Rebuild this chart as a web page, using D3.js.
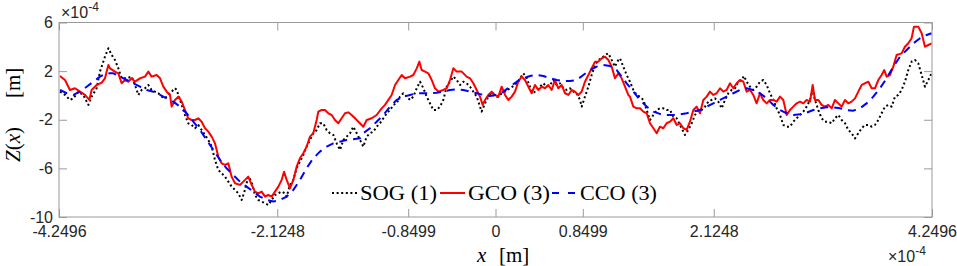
<!DOCTYPE html>
<html><head><meta charset="utf-8">
<script src="https://cdn.jsdelivr.net/npm/d3@7"></script>
<style>
body{margin:0;background:#fff;}
svg{display:block;}
</style></head>
<body><svg id="c" width="957" height="266"></svg>
<script>
// x tick values and labels (x10^-4 m)
const xTickValues = [-4.2496, -2.1248, -0.8499, 0, 0.8499, 2.1248, 4.2496];
const xTickLabels = ["-4.2496", "-2.1248", "-0.8499", "0", "0.8499", "2.1248", "4.2496"];
const yTickValues = [-10, -6, -2, 2, 6];
const yTickLabels = ["-10", "-6", "-2", "2", "6"];
const seriesNames = ["SOG (1)", "GCO (3)", "CCO (3)"];

// SOG (1) - black dotted
const sogX = [-4.240,-4.191,-4.143,-4.110,-4.062,-4.013,-3.964,-3.932,-3.883,-3.851,-3.802,-3.769,-3.737,-3.705,-3.672,-3.640,-3.591,-3.542,-3.510,-3.477,-3.445,-3.412,-3.380,-3.348,-3.315,-3.283,-3.250,-3.218,-3.185,-3.153,-3.120,-3.104,-3.088,-3.055,-3.023,-2.991,-2.958,-2.926,-2.893,-2.861,-2.828,-2.796,-2.763,-2.731,-2.699,-2.666,-2.634,-2.601,-2.569,-2.536,-2.504,-2.471,-2.439,-2.407,-2.374,-2.342,-2.309,-2.277,-2.244,-2.212,-2.179,-2.147,-2.114,-2.082,-2.050,-2.033,-2.001,-1.968,-1.936,-1.904,-1.871,-1.839,-1.806,-1.774,-1.741,-1.709,-1.677,-1.644,-1.612,
-1.579,-1.546,-1.514,-1.481,-1.449,-1.416,-1.384,-1.351,-1.319,-1.287,-1.254,-1.222,-1.189,-1.157,-1.124,-1.092,-1.059,-1.027,-0.994,-0.962,-0.930,-0.897,-0.865,-0.832,-0.800,-0.767,-0.735,-0.702,-0.670,-0.638,-0.605,-0.573,-0.540,-0.508,-0.475,-0.443,-0.410,-0.378,-0.345,-0.313,-0.281,-0.248,-0.216,-0.183,-0.151,-0.135,-0.102,-0.070,-0.037,-0.005,0.028,0.060,0.093,0.141,0.190,0.239,0.271,0.304,0.336,0.369,0.401,0.433,0.466,0.498,0.531,0.563,0.596,0.628,0.661,0.693,0.725,0.758,0.790,0.823,0.839,0.871,0.904,0.936,0.969,1.001,1.034,1.066,1.099,1.131,1.163,1.196,
1.212,1.244,1.277,1.309,1.342,1.374,1.407,1.439,1.472,1.504,1.537,1.569,1.601,1.634,1.666,1.699,1.731,1.764,1.796,1.829,1.845,1.877,1.910,1.942,1.975,2.007,2.040,2.072,2.104,2.137,2.169,2.202,2.234,2.267,2.299,2.332,2.364,2.396,2.419,2.445,2.478,2.510,2.542,2.575,2.607,2.640,2.672,2.705,2.737,2.770,2.802,2.835,2.867,2.899,2.932,2.964,2.997,3.029,3.062,3.088,3.110,3.143,3.175,3.208,3.240,3.273,3.305,3.338,3.370,3.403,3.435,3.467,3.500,3.532,3.565,3.597,3.630,3.662,3.694,3.727,3.759,3.792,3.824,3.857,3.889,3.922,3.954,3.986,4.019,4.051,4.084,4.116,4.149,4.181,4.214,4.246];
const sogY = [0.31,0.04,-0.37,-0.24,0.31,0.04,-0.78,-0.10,0.59,1.96,3.19,3.88,3.33,2.92,2.23,1.41,1.41,1.55,0.86,0.04,0.45,0.59,0.86,0.45,0.31,0.18,-0.10,-0.24,0.04,0.31,0.59,0.45,0.04,-0.78,-1.61,-2.29,-2.43,-2.70,-2.43,-2.84,-3.25,-3.66,-4.21,-5.31,-6.13,-6.40,-6.68,-7.09,-7.50,-7.77,-8.05,-8.60,-7.77,-6.68,-7.09,-8.19,-8.60,-8.73,-8.87,-9.01,-8.60,-8.19,-8.05,-7.91,-8.05,-8.32,-7.36,-6.95,-5.99,-5.44,-4.90,-4.21,-3.66,-3.11,-2.84,-2.29,-2.29,-2.84,-3.11,
-3.25,-3.94,-4.48,-3.66,-3.39,-3.11,-2.57,-3.11,-3.66,-4.21,-3.39,-3.11,-2.98,-2.57,-2.29,-1.88,-1.47,-1.20,-0.78,-0.65,-0.10,0.18,-0.10,-0.37,-0.10,0.59,1.13,0.59,-0.10,-0.65,-1.20,-1.20,-0.92,-0.37,0.72,1.13,1.55,1.27,0.86,1.13,1.00,0.72,0.31,-0.10,-0.92,-1.33,-0.65,-0.10,0.18,-0.10,-0.10,0.18,0.31,0.59,0.86,1.41,1.82,1.41,0.72,0.18,0.45,0.72,1.00,0.72,0.86,1.27,0.86,1.00,0.59,0.45,0.59,0.31,0.18,-0.37,-0.92,-0.10,0.72,1.68,2.50,2.92,3.05,3.33,3.46,2.92,2.37,2.92,
3.05,2.37,1.68,1.13,0.45,0.04,-0.10,-0.37,-1.20,-2.02,-1.61,-1.20,-1.06,-1.06,-1.20,-1.20,-1.74,-1.88,-2.43,-2.98,-3.25,-2.84,-2.29,-1.61,-1.20,-1.20,-0.92,-0.51,-0.37,-0.24,-0.51,-1.06,-0.37,0.18,0.45,0.59,1.13,1.27,1.60,1.13,0.72,0.45,0.72,1.13,1.27,0.86,0.18,-0.37,-1.06,-1.61,-2.43,-2.57,-2.57,-2.16,-1.88,-1.61,-1.33,-0.92,-0.37,0.50,-0.37,-1.20,-1.88,-2.16,-2.16,-2.29,-1.88,-1.61,-2.02,-2.29,-2.84,-3.11,-3.53,-3.11,-2.70,-2.43,-2.43,-2.57,-2.43,-2.02,-1.47,-0.92,-0.78,-0.92,-0.10,0.04,0.45,1.13,2.09,2.78,2.92,2.64,1.68,0.72,1.27,1.82];

// GCO (3) - red solid
const gcoX = [-4.240,-4.191,-4.143,-4.094,-4.045,-3.997,-3.954,-3.932,-3.883,-3.834,-3.802,-3.769,-3.753,-3.705,-3.672,-3.640,-3.607,-3.575,-3.542,-3.510,-3.461,-3.412,-3.380,-3.348,-3.299,-3.266,-3.234,-3.201,-3.169,-3.153,-3.120,-3.088,-3.055,-3.023,-2.991,-2.958,-2.926,-2.893,-2.861,-2.828,-2.796,-2.763,-2.731,-2.699,-2.666,-2.634,-2.601,-2.569,-2.536,-2.488,-2.455,-2.407,-2.374,-2.342,-2.309,-2.277,-2.244,-2.212,-2.179,-2.147,-2.114,-2.082,-2.059,-2.033,-2.001,-1.968,-1.936,-1.904,-1.871,-1.839,-1.806,-1.774,-1.741,-1.725,-1.693,-1.660,-1.628,-1.595,-1.563,-1.530,-1.498,-1.465,-1.433,-1.401,-1.368,-1.320,
-1.287,-1.254,-1.205,-1.157,-1.108,-1.076,-1.043,-1.011,-0.978,-0.946,-0.913,-0.881,-0.832,-0.800,-0.767,-0.741,-0.719,-0.686,-0.654,-0.621,-0.589,-0.556,-0.508,-0.475,-0.443,-0.410,-0.378,-0.329,-0.281,-0.248,-0.216,-0.183,-0.151,-0.125,-0.102,-0.070,-0.037,-0.005,0.028,0.060,0.093,0.125,0.158,0.190,0.222,0.255,0.287,0.320,0.352,0.385,0.417,0.450,0.482,0.514,0.547,0.579,0.612,0.644,0.677,0.709,0.742,0.774,0.807,0.839,0.871,0.904,0.936,0.969,1.001,1.034,1.066,1.099,1.131,1.163,1.196,1.228,1.261,1.293,
1.309,1.342,1.374,1.407,1.439,1.472,1.504,1.537,1.569,1.601,1.634,1.666,1.699,1.731,1.764,1.796,1.829,1.861,1.893,1.926,1.958,1.991,2.023,2.056,2.088,2.121,2.153,2.186,2.218,2.250,2.283,2.315,2.348,2.380,2.413,2.445,2.478,2.510,2.542,2.575,2.607,2.640,2.672,2.705,2.737,2.770,2.802,2.835,2.867,2.899,2.932,2.964,2.997,3.029,3.062,3.088,3.110,3.143,3.175,3.208,3.240,3.273,3.305,3.338,3.370,3.403,3.435,3.467,3.500,3.532,3.565,3.597,3.630,3.662,3.694,3.727,3.759,3.785,3.808,3.840,3.873,3.905,3.954,3.986,4.019,4.051,4.074,4.116,4.149,4.181,4.214,4.246];
const gcoY = [1.60,1.27,0.45,0.59,0.31,0.04,-0.37,0.45,0.86,1.05,1.41,2.50,2.23,1.96,1.82,1.00,1.27,1.13,1.41,1.13,1.41,1.55,1.96,1.55,1.68,1.41,0.72,0.31,0.04,-0.92,-0.37,-0.10,-0.51,-1.20,-1.88,-2.02,-2.02,-1.88,-2.16,-2.70,-2.98,-3.39,-3.94,-5.03,-5.58,-5.72,-5.58,-6.68,-7.23,-7.36,-7.09,-6.68,-7.36,-7.91,-8.05,-7.91,-8.32,-8.19,-8.32,-7.91,-7.50,-6.95,-6.27,-6.95,-7.64,-6.95,-5.86,-5.17,-4.76,-4.21,-3.39,-3.11,-2.02,-1.33,-1.20,-1.20,-1.47,-1.61,-2.02,-2.29,-1.88,-1.47,-1.39,-1.61,-1.88,-2.29,
-2.57,-2.02,-1.88,-1.61,-1.06,-0.78,-0.37,0.04,0.86,1.27,1.68,1.41,1.55,1.68,2.23,2.78,2.09,1.96,1.82,1.27,0.59,0.31,0.45,0.59,1.27,2.23,1.96,1.96,1.55,1.41,1.00,0.45,-0.10,-0.78,-0.37,0.04,0.31,0.04,-0.10,0.72,0.04,-0.37,-0.10,0.31,1.13,1.55,1.27,0.72,0.18,0.86,0.45,0.72,0.59,0.86,0.45,1.27,0.59,0.86,0.18,0.04,0.45,0.31,0.04,0.31,1.13,1.68,2.23,2.78,2.78,3.05,3.19,2.92,2.37,1.41,1.82,1.41,0.72,0.04,
-0.10,-0.92,-1.06,-1.06,-1.33,-1.47,-2.29,-2.70,-3.11,-2.57,-2.70,-2.29,-2.16,-1.88,-2.43,-2.29,-2.70,-2.84,-2.16,-1.20,-0.92,-1.47,-0.37,-0.10,0.31,0.04,0.18,0.59,0.31,0.45,1.00,0.59,1.00,1.27,1.13,0.31,0.45,0.04,-0.65,0.18,-0.37,-0.65,-0.37,-0.37,-0.51,-0.10,-0.37,-1.61,-1.20,-0.92,-0.65,-0.51,-0.65,-0.37,-0.51,0.86,-0.37,-0.37,-0.78,-0.92,-0.78,-1.06,-0.37,-0.65,-0.92,-0.37,-0.65,-0.51,-0.24,0.31,0.86,1.00,1.13,0.59,0.59,1.27,1.68,2.09,1.55,1.68,2.37,3.33,3.46,4.01,4.29,4.70,5.66,5.66,5.11,4.01,4.15,4.29];

// CCO (3) - blue dashed
const ccoX = [-4.240,-4.175,-4.110,-4.045,-3.980,-3.916,-3.851,-3.786,-3.721,-3.656,-3.591,-3.526,-3.461,-3.396,-3.331,-3.266,-3.202,-3.137,-3.072,-3.007,-2.942,-2.877,-2.812,-2.747,-2.682,-2.618,-2.553,-2.488,-2.423,-2.358,-2.293,-2.228,-2.163,-2.098,-2.033,-1.968,-1.904,-1.839,-1.774,-1.709,-1.644,-1.579,-1.514,-1.449,-1.384,-1.320,
-1.287,-1.222,-1.157,-1.092,-1.027,-0.962,-0.897,-0.832,-0.767,-0.702,-0.638,-0.573,-0.508,-0.443,-0.378,-0.313,-0.248,-0.183,-0.118,-0.053,0.012,0.077,0.141,0.206,0.271,0.336,0.401,0.466,0.531,0.596,0.661,0.725,0.790,0.855,0.920,0.985,1.050,1.115,1.180,
1.277,1.342,1.407,1.472,1.537,1.601,1.666,1.731,1.796,1.861,1.926,1.991,2.056,2.121,2.186,2.250,2.315,2.380,2.445,2.510,2.575,2.640,2.705,2.770,2.835,2.899,2.964,3.029,3.094,3.159,3.224,3.289,3.354,3.419,3.484,3.549,3.613,3.678,3.743,3.808,3.873,3.938,4.003,4.068,4.133,4.198,4.246];
const ccoY = [0.45,0.18,0.04,0.31,0.72,1.13,1.55,1.82,1.82,1.55,1.27,1.00,0.72,0.45,0.31,0.04,-0.24,-0.51,-0.92,-1.47,-2.16,-2.84,-3.66,-4.48,-5.31,-5.99,-6.54,-7.09,-7.50,-7.91,-8.32,-8.60,-8.73,-8.60,-8.32,-7.77,-6.95,-5.99,-5.17,-4.62,-4.21,-3.94,-3.80,-3.66,-3.61,-3.53,
-3.11,-2.70,-2.16,-1.61,-0.92,-0.37,-0.10,0.04,0.18,0.18,0.18,0.23,0.31,0.45,0.50,0.45,0.31,0.18,0.04,-0.04,0.04,0.31,0.72,1.13,1.41,1.60,1.68,1.60,1.41,1.27,1.19,1.19,1.27,1.68,2.09,2.37,2.50,2.42,2.09,
1.00,0.31,-0.37,-0.92,-1.33,-1.52,-1.61,-1.61,-1.55,-1.47,-1.33,-1.20,-0.92,-0.65,-0.37,-0.10,0.18,0.45,0.59,0.45,0.18,-0.24,-0.78,-1.20,-1.47,-1.61,-1.55,-1.41,-1.20,-1.06,-0.98,-0.98,-1.06,-1.20,-1.25,-1.06,-0.65,-0.10,0.59,1.41,2.37,3.19,3.74,4.29,4.70,4.97,5.11];

const W = 957, H = 266;
const L = 59, R = 932, T = 22.5, B = 217;
const svg = d3.select("#c");
const x = d3.scaleLinear().domain([-4.2496, 4.2496]).range([L, R]);
const y = d3.scaleLinear().domain([-10, 6]).range([B, T]);

const frameCol = "#9a9a9a", textCol = "#262626";
const sans = "'Liberation Sans', Arial, Helvetica, sans-serif";
const serif = "'Liberation Serif', 'Times New Roman', serif";

svg.append("defs").append("clipPath").attr("id","clip")
  .append("rect").attr("x",L).attr("y",T).attr("width",R-L).attr("height",B-T);

function styleAxis(g, labels){
  g.select(".domain").remove();
  g.selectAll(".tick line").attr("stroke", frameCol).attr("stroke-width",1);
  g.selectAll(".tick text").attr("fill", textCol).style("font-family", sans).style("font-size","16px");
  if(!labels) g.selectAll(".tick text").remove();
}
const fx = (d)=> xTickLabels[xTickValues.indexOf(d)];
const fy = (d)=> yTickLabels[yTickValues.indexOf(d)];

svg.append("g").attr("transform",`translate(0,${B})`)
  .call(d3.axisBottom(x).tickValues(xTickValues).tickFormat(fx).tickSizeInner(-8).tickSizeOuter(0).tickPadding(9))
  .call(g=>styleAxis(g,true));
svg.append("g").attr("transform",`translate(0,${T})`)
  .call(d3.axisTop(x).tickValues(xTickValues).tickSizeInner(-8).tickSizeOuter(0))
  .call(g=>styleAxis(g,false));
svg.append("g").attr("transform",`translate(${L},0)`)
  .call(d3.axisLeft(y).tickValues(yTickValues).tickFormat(fy).tickSizeInner(-8).tickSizeOuter(0).tickPadding(6))
  .call(g=>styleAxis(g,true));
svg.append("g").attr("transform",`translate(${R},0)`)
  .call(d3.axisRight(y).tickValues(yTickValues).tickSizeInner(-8).tickSizeOuter(0))
  .call(g=>styleAxis(g,false));

// lines
const mk = (xs, ys) => xs.map((v,i)=>[v, ys[i]]);
const line = d3.line().x(d=>x(d[0])).y(d=>y(d[1]));
const series = [
  {name: seriesNames[0], data: mk(sogX,sogY), color:"#000000", dash:"2,2.6", w:2},
  {name: seriesNames[1], data: mk(gcoX,gcoY), color:"#ff0000", dash:null, w:2},
  {name: seriesNames[2], data: mk(ccoX,ccoY), color:"#0000ff", dash:"8,6", w:2}
];
const pg = svg.append("g").attr("clip-path","url(#clip)");
series.forEach(s=>{
  pg.append("path").datum(s.data).attr("d",line).attr("fill","none")
    .attr("stroke",s.color).attr("stroke-width",s.w)
    .attr("stroke-dasharray",s.dash).attr("stroke-linejoin","round");
});

// frame
svg.append("rect").attr("x",L).attr("y",T).attr("width",R-L).attr("height",B-T)
  .attr("fill","none").attr("stroke",frameCol).attr("stroke-width",1);

// exponent labels
function expo(xp, yp){
  const t = svg.append("text").attr("x",xp).attr("y",yp).attr("fill",textCol)
    .style("font-family",sans).style("font-size","16px");
  t.append("tspan").text("\u00d710");
  t.append("tspan").attr("dy",-7).style("font-size","12px").text("-4");
}
expo(61, 18);
expo(888, 262);

// legend
const legY = 193;
const leg = [
  {sx:332, ex:357, tx:360, tl:77},
  {sx:440, ex:465, tx:468, tl:82},
  {sx:552, ex:576, tx:580, tl:77}
];
series.forEach((s,i)=>{
  const l = leg[i];
  svg.append("line").attr("x1",l.sx).attr("x2",l.ex).attr("y1",legY).attr("y2",legY)
    .attr("stroke",s.color).attr("stroke-width",2).attr("stroke-dasharray", i===2 ? "7,9" : s.dash);
  svg.append("text").attr("x",l.tx).attr("y",legY+6.5).attr("fill","#000")
    .style("font-family",serif).style("font-size","20px")
    .attr("textLength",l.tl).attr("lengthAdjust","spacingAndGlyphs").text(s.name);
});

// x label
const xl = svg.append("text").attr("y",262).attr("fill","#000").style("font-family",serif).style("font-size","21px");
xl.append("tspan").attr("x",477).style("font-style","italic").text("x");
xl.append("tspan").attr("x",499).text("[m]");

// y label (rotated)
const yl = svg.append("text").attr("transform","translate(20,162) rotate(-90)")
  .attr("fill","#000").style("font-family",serif).style("font-size","21px");
yl.append("tspan").attr("x",0).style("font-style","italic").text("Z");
yl.append("tspan").text("(");
yl.append("tspan").style("font-style","italic").text("x");
yl.append("tspan").text(")");
yl.append("tspan").attr("x",64).text("[m]");
</script></body></html>
